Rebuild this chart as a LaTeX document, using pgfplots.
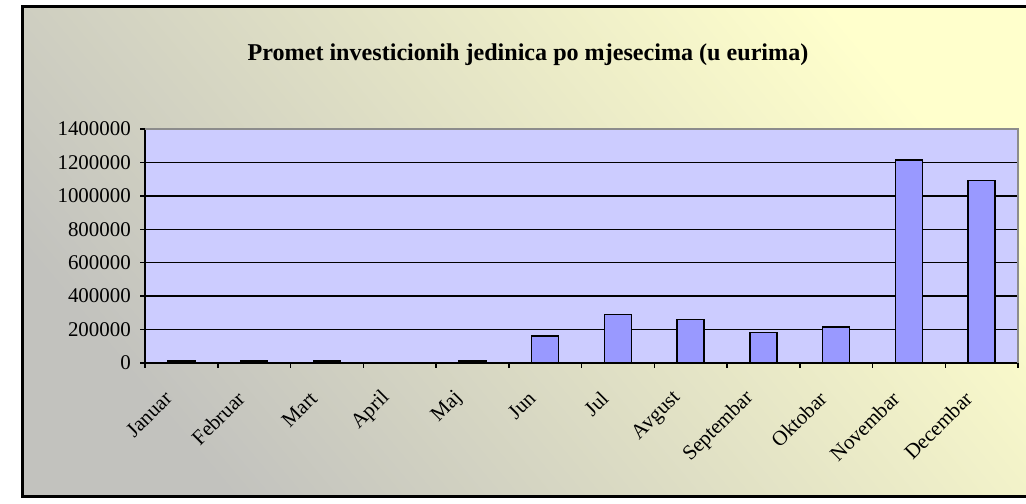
\documentclass[border=0pt]{standalone}
\usepackage{pgfplots}
\pgfplotsset{compat=1.18}
\usepackage{fontspec}
\setmainfont{Liberation Serif}
\definecolor{plotbg}{HTML}{CCCCFF}
\definecolor{barfill}{HTML}{9999FF}
\definecolor{bgyellow}{HTML}{FFFFCC}
\definecolor{bggray}{HTML}{C2C2BE}
\definecolor{plotedge}{HTML}{8C8C8C}

\begin{document}
\begin{tikzpicture}
\useasboundingbox (0bp,0bp) rectangle (1026bp,504bp);
\fill[white] (0bp,0bp) rectangle (1026bp,504bp);
\begin{scope}
  \clip (0bp,0bp) rectangle (1026bp,504bp);
  \shade[top color=bgyellow, bottom color=bggray, shading angle=-50] (22bp,7bp) rectangle (1040bp,497bp);
  \draw[line width=3bp] (22bp,7bp) rectangle (1040bp,497bp);
\end{scope}
\node[font=\fontsize{24.2}{29}\selectfont\bfseries] at (528bp,449bp) {Promet investicionih jedinica po mjesecima (u eurima)};

\begin{axis}[
  at={(145bp,141bp)}, anchor=south west, scale only axis,
  width=873bp, height=234bp,
  xmin=-0.5, xmax=11.5, ymin=0, ymax=1400000,
  ybar, bar width=27bp,
  axis x line*=bottom, axis y line*=left,
  axis line style={line width=1.5bp, -},
  axis background/.style={fill=plotbg},
  ymajorgrids, grid style={black, line width=1.3bp},
  tick align=outside, major tick length=5bp,
  tick style={black, line width=1.5bp},
  ytick={0,200000,...,1400000},
  scaled y ticks=false,
  yticklabel style={/pgf/number format/fixed, /pgf/number format/1000 sep={},
    /pgf/number format/assume math mode=true,
    font=\fontsize{21}{25}\selectfont, inner sep=0pt, xshift=-9bp},
  xtick={-0.5,0.5,...,11.5}, xticklabels={},
  extra x ticks={0,1,...,11},
  extra x tick labels={Januar,Februar,Mart,April,Maj,Jun,Jul,Avgust,Septembar,Oktobar,Novembar,Decembar},
  extra x tick style={major tick length=0pt,
    xticklabel style={font=\fontsize{21}{25}\selectfont, inner sep=0pt,
      xshift=-13bp, yshift=-32bp, rotate=45, anchor=east}},
  after end axis/.code={
    \draw[plotedge, line width=1.5bp] (rel axis cs:0,1) -- (rel axis cs:1,1) -- (rel axis cs:1,0);
  },
]
\addplot[fill=barfill, draw=black, line width=1.5bp] coordinates {
  (0,12000) (1,12000) (2,12000) (3,0) (4,12000) (5,163000)
  (6,291000) (7,261000) (8,181000) (9,214000) (10,1216000) (11,1092000)
};
\end{axis}
\end{tikzpicture}
\end{document}
